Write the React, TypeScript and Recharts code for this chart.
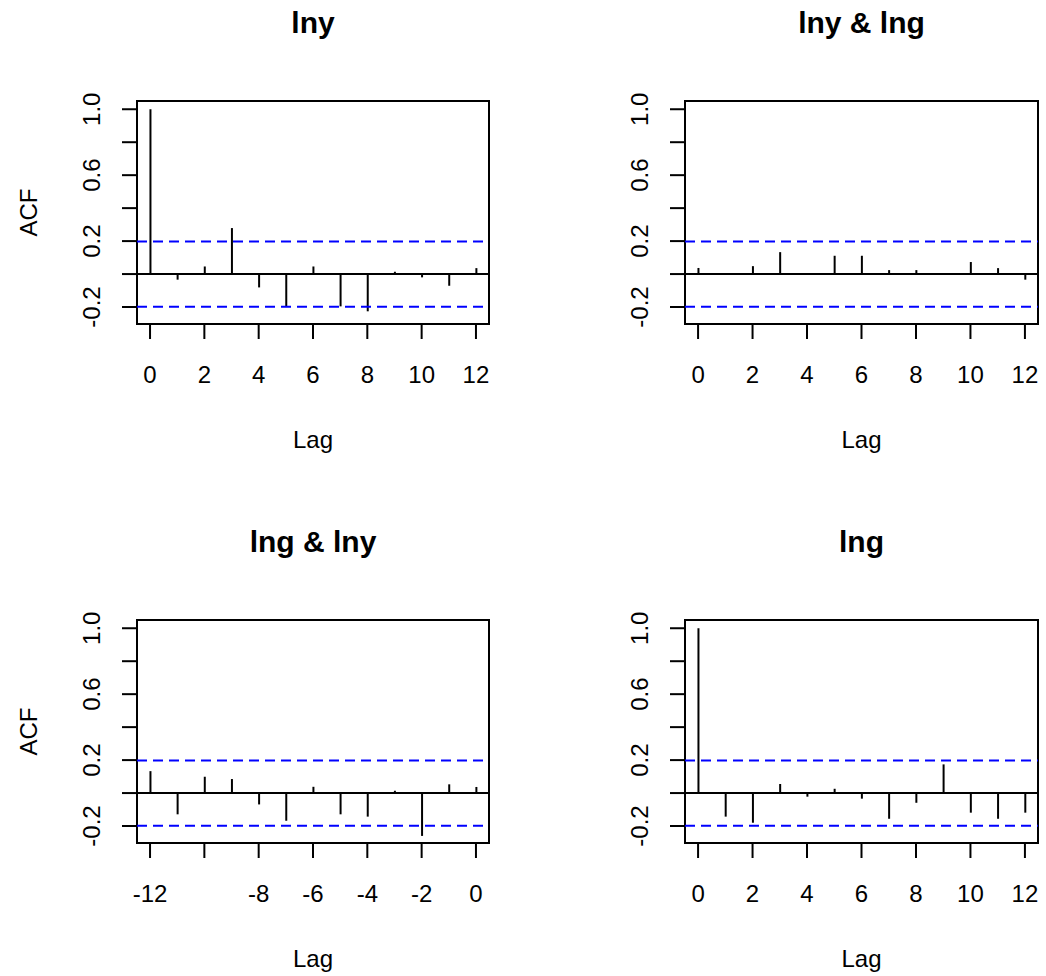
import React from 'react';
import { ComposedChart, Bar, XAxis, YAxis, ReferenceLine, ReferenceArea } from 'recharts';

const lagsPositive = [0, 1, 2, 3, 4, 5, 6, 7, 8, 9, 10, 11, 12];
const lagsNegative = [-12, -11, -10, -9, -8, -7, -6, -5, -4, -3, -2, -1, 0];

const acfLny = [1.0, -0.034, 0.046, 0.279, -0.081, -0.196, 0.046, -0.196, -0.226, 0.014, -0.02, -0.071, 0.036];
const ccfLnyLng = [0.037, 0.004, 0.048, 0.133, 0.003, 0.111, 0.111, 0.024, 0.024, 0.003, 0.073, 0.036, -0.034];
const ccfLngLny = [0.133, -0.129, 0.099, 0.085, -0.069, -0.168, 0.038, -0.129, -0.143, 0.014, -0.26, 0.053, 0.037];
const acfLng = [1.0, -0.143, -0.18, 0.055, -0.022, 0.026, -0.034, -0.156, -0.059, 0.174, -0.119, -0.156, -0.119];

const xTicksPositive = [0, 2, 4, 6, 8, 10, 12];
const xLabelsPositive = ['0', '2', '4', '6', '8', '10', '12'];
const xTicksNegative = [-12, -10, -8, -6, -4, -2, 0];
const xLabelsNegative = ['-12', '', '-8', '-6', '-4', '-2', '0'];

const yTicks = [-0.2, 0, 0.2, 0.4, 0.6, 0.8, 1.0];
const yLabels = ['-0.2', '', '0.2', '', '0.6', '', '1.0'];

const panelTitles = ['lny', 'lny & lng', 'lng & lny', 'lng'];
const ciBound = 0.198;

const W = 1046;
const H = 976;
const Y_AXIS_W = 60;
const X_AXIS_H = 60;
const FONT = '"Liberation Sans", Arial, Helvetica, sans-serif';
const Y_DOMAIN: [number, number] = [-0.303, 1.05];

const panels = [
  { title: panelTitles[0], lags: lagsPositive, values: acfLny, xTicks: xTicksPositive, xLabels: xLabelsPositive, xDomain: [-0.48, 12.48], box: { left: 137, top: 101, right: 489, bottom: 324 }, acfLabel: true },
  { title: panelTitles[1], lags: lagsPositive, values: ccfLnyLng, xTicks: xTicksPositive, xLabels: xLabelsPositive, xDomain: [-0.48, 12.48], box: { left: 685, top: 101, right: 1038, bottom: 324 }, acfLabel: false },
  { title: panelTitles[2], lags: lagsNegative, values: ccfLngLny, xTicks: xTicksNegative, xLabels: xLabelsNegative, xDomain: [-12.48, 0.48], box: { left: 137, top: 620, right: 489, bottom: 843 }, acfLabel: true },
  { title: panelTitles[3], lags: lagsPositive, values: acfLng, xTicks: xTicksPositive, xLabels: xLabelsPositive, xDomain: [-0.48, 12.48], box: { left: 685, top: 620, right: 1038, bottom: 843 }, acfLabel: false },
];

const Panel: React.FC<{ p: typeof panels[number] }> = ({ p }) => {
  const rows = p.lags.map((lag, i) => ({ lag, acf: p.values[i] }));
  const margin = {
    left: p.box.left - Y_AXIS_W,
    top: p.box.top,
    right: W - p.box.right,
    bottom: H - p.box.bottom - X_AXIS_H,
  };

  const xTick = (props: any) => {
    const { x, y, payload } = props;
    const label = p.xLabels[p.xTicks.indexOf(payload.value)] ?? '';
    return (
      <text x={x} y={y + 44} textAnchor="middle" fontSize={24} fontFamily={FONT} fill="#000">{label}</text>
    );
  };

  const yTick = (props: any) => {
    const { x, y, payload } = props;
    const idx = yTicks.findIndex((v) => Math.abs(v - payload.value) < 1e-6);
    const label = idx >= 0 ? yLabels[idx] : '';
    const bx = x - 22;
    return (
      <text x={bx} y={y} transform={`rotate(-90 ${bx} ${y})`} textAnchor="middle" fontSize={24} fontFamily={FONT} fill="#000">{label}</text>
    );
  };

  return (
    <div style={{ position: 'absolute', left: 0, top: 0 }}>
      <ComposedChart width={W} height={H} data={rows} margin={margin}>
        <XAxis
          type="number"
          dataKey="lag"
          domain={p.xDomain}
          ticks={p.xTicks}
          interval={0}
          allowDataOverflow
          axisLine={false}
          tickSize={15}
          tickMargin={0}
          tickLine={{ stroke: '#000', strokeWidth: 2 }}
          tick={xTick}
          height={X_AXIS_H}
        />
        <YAxis
          type="number"
          domain={Y_DOMAIN}
          ticks={yTicks}
          interval={0}
          allowDataOverflow
          axisLine={false}
          tickSize={15}
          tickMargin={0}
          tickLine={{ stroke: '#000', strokeWidth: 2 }}
          tick={yTick}
          width={Y_AXIS_W}
        />
        <ReferenceArea
          x1={p.xDomain[0]}
          x2={p.xDomain[1]}
          y1={Y_DOMAIN[0]}
          y2={Y_DOMAIN[1]}
          fill="none"
          fillOpacity={0}
          stroke="#000"
          strokeWidth={2}
          ifOverflow="visible"
        />
        <ReferenceLine y={0} stroke="#000" strokeWidth={2} />
        <ReferenceLine y={ciBound} stroke="#0000ff" strokeWidth={2} strokeDasharray="10 6" />
        <ReferenceLine y={-ciBound} stroke="#0000ff" strokeWidth={2} strokeDasharray="10 6" />
        <Bar dataKey="acf" fill="#000" barSize={2} isAnimationActive={false} />
      </ComposedChart>
    </div>
  );
};

export default function App() {
  return (
    <div style={{ position: 'absolute', left: 0, top: 0, width: W, height: H, background: '#fff', overflow: 'hidden' }}>
      {panels.map((p, i) => (
        <Panel key={i} p={p} />
      ))}
      <svg width={W} height={H} style={{ position: 'absolute', left: 0, top: 0, pointerEvents: 'none' }}>
        {panels.map((p, i) => {
          const cx = (p.box.left + p.box.right) / 2;
          const cy = (p.box.top + p.box.bottom) / 2;
          return (
            <g key={i} fontFamily={FONT} fill="#000">
              <text x={cx} y={p.box.top - 68} textAnchor="middle" fontSize={30} fontWeight="bold">{p.title}</text>
              <text x={cx} y={p.box.bottom + 124} textAnchor="middle" fontSize={24}>Lag</text>
              {p.acfLabel && (
                <text x={37} y={cy} transform={`rotate(-90 37 ${cy})`} textAnchor="middle" fontSize={24}>ACF</text>
              )}
            </g>
          );
        })}
      </svg>
    </div>
  );
}
